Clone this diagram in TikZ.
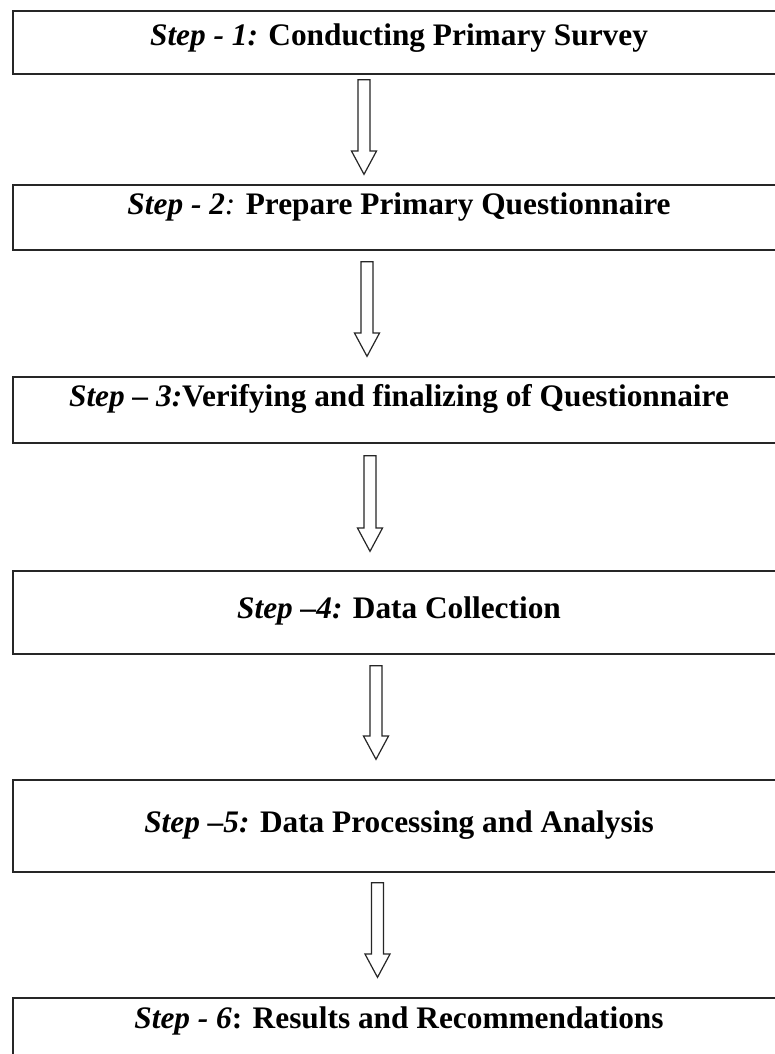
\documentclass[tikz,border=0pt]{standalone}
\usepackage{fontspec}
\setmainfont{Liberation Serif}
\usetikzlibrary{calc}
\begin{document}
\begin{tikzpicture}[x=0.75pt,y=-0.75pt,
  stepbox/.style={draw=black!85, line width=1pt, rectangle, minimum width=772*0.75pt, inner sep=0pt},
  steptext/.style={anchor=base, inner sep=0pt, font=\fontsize{23.5}{28}\selectfont\bfseries},
  hollow/.style={draw=black!85, line width=0.9pt, fill=white, line join=miter,
    to path={let \p1=(\tikztostart), \p2=(\tikztotarget) in
      (\x1-4.5pt,\y1) -- (\x1+4.5pt,\y1) -- (\x1+4.5pt,\y2+17.5pt) -- (\x1+9.4pt,\y2+17.5pt)
      -- (\x1,\y2) -- (\x1-9.4pt,\y2+17.5pt) -- (\x1-4.5pt,\y2+17.5pt) -- cycle}}]
\useasboundingbox[fill=white] (0,0) rectangle (775,1054);

\node[stepbox, minimum height=63*0.75pt] (b1) at (399,42.5) {};
\node[stepbox, minimum height=65*0.75pt] (b2) at (399,217.5) {};
\node[stepbox, minimum height=66*0.75pt] (b3) at (399,410) {};
\node[stepbox, minimum height=83*0.75pt] (b4) at (399,612.5) {};
\node[stepbox, minimum height=92*0.75pt] (b5) at (399,826) {};
\node[stepbox, minimum height=82*0.75pt] (b6) at (399,1039) {};

\node[steptext] (t1) at ($(b1.north)+(0,35)$) {\textit{Step - 1:} Conducting Primary Survey};
\node[steptext] (t2) at ($(b2.north)+(0,30)$) {\textit{Step - 2}{\mdseries\itshape:} Prepare Primary Questionnaire};
\node[steptext] (t3) at ($(b3.north)+(0,30)$) {\textit{Step -- 3:}Verifying and finalizing of Questionnaire};
\node[steptext] (t4) at ($(b4.north)+(0,48)$) {\textit{Step --4:} Data Collection};
\node[steptext] (t5) at ($(b5.north)+(0,53)$) {\textit{Step --5:} Data Processing and Analysis};
\node[steptext] (t6) at ($(b6.north)+(0,31)$) {\textit{Step - 6}: Results and Recommendations};

\coordinate (a1s) at ($(b1.south)+(-35,5)$);
\coordinate (a1e) at ($(b2.north)+(-35,-10)$);
\coordinate (a2s) at ($(b2.south)+(-32,11)$);
\coordinate (a2e) at ($(b3.north)+(-32,-20)$);
\coordinate (a3s) at ($(b3.south)+(-29,12)$);
\coordinate (a3e) at ($(b4.north)+(-29,-19)$);
\coordinate (a4s) at ($(b4.south)+(-23,11)$);
\coordinate (a4e) at ($(b5.north)+(-23,-20)$);
\coordinate (a5s) at ($(b5.south)+(-21.5,10)$);
\coordinate (a5e) at ($(b6.north)+(-21.5,-20)$);

\draw[hollow] (a1s) to (a1e);
\draw[hollow] (a2s) to (a2e);
\draw[hollow] (a3s) to (a3e);
\draw[hollow] (a4s) to (a4e);
\draw[hollow] (a5s) to (a5e);
\end{tikzpicture}
\end{document}
